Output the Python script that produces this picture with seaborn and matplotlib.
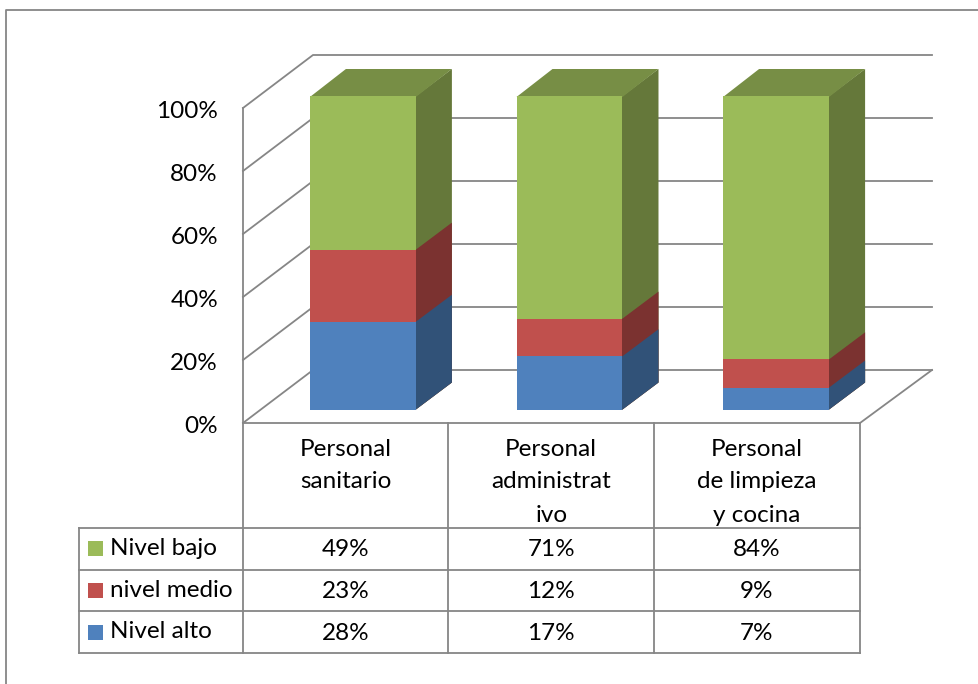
import matplotlib
matplotlib.use("Agg")
import matplotlib.pyplot as plt
from matplotlib.transforms import ScaledTranslation
import seaborn as sns
import numpy as np
import pandas as pd

# datos
categorias = ["Personal\nsanitario", "Personal\nadministrat\nivo", "Personal\nde limpieza\ny cocina"]
nivel_alto = [28, 17, 7]
nivel_medio = [23, 12, 9]
nivel_bajo = [49, 71, 84]
ticks = [0, 20, 40, 60, 80, 100]

W, H = 979, 684
GRIS = "#868686"
# orden: de arriba abajo en la tabla
series = [
    ("Nivel bajo", nivel_bajo, "#9BBB59", "#65783A"),
    ("nivel medio", nivel_medio, "#C0504D", "#7B3230"),
    ("Nivel alto", nivel_alto, "#4F81BD", "#315278"),
]
TOP_COLOR = "#778E45"
DX, DY = 36, 27  # profundidad de las barras

sns.set_theme(style="white")
plt.rcParams["font.family"] = ["Lato", "DejaVu Sans"]
FS = 17.5


def box(x0, y0, x1, y1):
    # caja en pixeles (y hacia abajo) -> fraccion de figura
    return [x0 / W, 1 - y1 / H, (x1 - x0) / W, (y1 - y0) / H]


fig = plt.figure(figsize=(W / 100, H / 100), dpi=100, facecolor="white")

# capa en pixeles para paredes, tabla y caras laterales
ax_px = fig.add_axes([0, 0, 1, 1], zorder=0)
ax_px.set_xlim(0, W)
ax_px.set_ylim(H, 0)
ax_px.axis("off")

# eje de valores sobre el plano frontal
ax_wall = fig.add_axes(box(243, 108, 860, 423), zorder=1)
ax_wall.patch.set_alpha(0)
ax_wall.set_xlim(0, 1)
ax_wall.set_ylim(0, 100)
ax_wall.set_xticks([])
ax_wall.set_yticks(ticks)
ax_wall.set_yticklabels([f"{t}%" for t in ticks], fontsize=FS, color="black")
ax_wall.tick_params(axis="y", length=0, pad=18)
baja = ScaledTranslation(0, -1.5 / 100, fig.dpi_scale_trans)
for etiqueta in ax_wall.get_yticklabels():
    etiqueta.set_transform(etiqueta.get_transform() + baja)
sns.despine(ax=ax_wall, top=True, right=True, left=True, bottom=True)

# barras apiladas
ax_bars = fig.add_axes(box(259.6, 96, 879.4, 409.5), zorder=2)
ax_bars.patch.set_alpha(0)
acumulado = np.sum([s[1] for s in series], axis=0).astype(float)
caras = []
for nombre, valores, color, oscuro in series:
    df = pd.DataFrame({"cat": categorias, "valor": acumulado})
    sns.barplot(data=df, x="cat", y="valor", color=color, saturation=1,
                width=0.513, linewidth=0, ax=ax_bars)
    caras.append((ax_bars.patches[-3:], oscuro))
    acumulado = acumulado - np.array(valores)
ax_bars.set_xlim(-0.5, 2.5)
ax_bars.set_ylim(0, 100)
ax_bars.set_xlabel("")
ax_bars.set_ylabel("")
ax_bars.set_xticks([])
ax_bars.set_yticks([])
sns.despine(ax=ax_bars, top=True, right=True, left=True, bottom=True)


def a_pixel(ax, x, y):
    px, py = ax.transData.transform((x, y))
    return px, H - py


# caras laterales y tapa a partir de las barras
for i, (barras, oscuro) in enumerate(caras):
    for b in barras:
        x0, x1 = b.get_x(), b.get_x() + b.get_width()
        xa, ya = a_pixel(ax_bars, x1, b.get_height())
        _, yb = a_pixel(ax_bars, x1, 0)
        # 1 px por debajo de la cara frontal para que no quede hueco
        ax_px.fill([xa - 1, xa, xa + DX, xa + DX, xa, xa - 1],
                   [ya, ya, ya - DY, yb - DY, yb, yb],
                   color=oscuro, lw=0, zorder=3 + i)
        if i == 0:
            xi, _ = a_pixel(ax_bars, x0, 0)
            ax_px.fill([xi, xa, xa + DX, xi + DX], [ya + 1, ya + 1, ya - DY, ya - DY],
                       color=TOP_COLOR, lw=0, zorder=3)

# paredes y rejilla
linea = dict(color=GRIS, lw=1.3, solid_capstyle="projecting", zorder=1)
for t in ticks:
    _, y = a_pixel(ax_wall, 0, t)
    ax_px.plot([243, 313, 932], [y, y - 53, y - 53], **linea)
ax_px.plot([860, 932], [423, 370], **linea)
ax_px.plot([243, 860], [423, 423], **linea)

# tabla de datos
columnas = [243, 448.5, 654, 860]
filas = [527.5, 569.5, 611, 653]
for x in columnas:
    ax_px.plot([x, x], [108 if x == 243 else 423, 653], **linea)
ax_px.plot([79, 79], [527.5, 653], **linea)
for y in filas:
    ax_px.plot([79, 860], [y, y], **linea)

for j, cat in enumerate(categorias):
    cx = (columnas[j] + columnas[j + 1]) / 2
    for k, parte in enumerate(cat.split("\n")):
        ax_px.text(cx, 449 + k * 33, parte, ha="center", va="center",
                   fontsize=FS, color="black")

for i, (nombre, valores, color, oscuro) in enumerate(series):
    yc = (filas[i] + filas[i + 1]) / 2
    ax_px.fill([88, 103, 103, 88], [yc - 7.5, yc - 7.5, yc + 7.5, yc + 7.5],
               color=color, lw=0, zorder=2)
    ax_px.text(110, yc, nombre, ha="left", va="center", fontsize=FS, color="black")
    for j, v in enumerate(valores):
        cx = (columnas[j] + columnas[j + 1]) / 2
        ax_px.text(cx, yc + 1, f"{v}%", ha="center", va="center", fontsize=FS, color="black")

# marco del grafico
ax_px.plot([6.5, 6.5, W], [H, 10, 10], color=GRIS, lw=1.3, zorder=1)

fig.savefig("out.png", dpi=100)
